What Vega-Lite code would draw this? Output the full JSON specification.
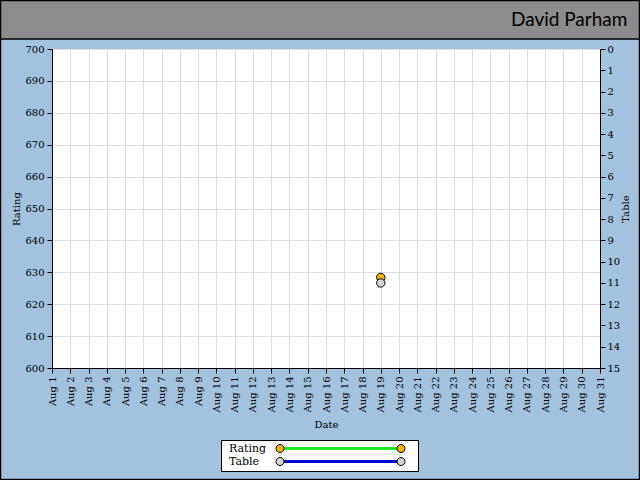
{
  "$schema": "https://vega.github.io/schema/vega-lite/v6.json",
  "width": 548,
  "height": 319,
  "autosize": {"type": "none"},
  "padding": {"left": 52, "top": 49, "right": 40, "bottom": 112},
  "background": "#a4c2dc",
  "config": {
    "view": {"fill": "white", "stroke": null},
    "font": "DejaVu Serif",
    "axis": {
      "domainColor": "black",
      "tickColor": "black",
      "tickSize": 5,
      "gridColor": "#dddddd",
      "labelFont": "DejaVu Serif",
      "labelFontSize": 10,
      "labelColor": "black",
      "titleFont": "DejaVu Serif",
      "titleFontSize": 10,
      "titleFontWeight": "normal",
      "titleColor": "black"
    }
  },
  "data": {
    "values": [
      {"date": "2013-08-19T00:00:00", "series": "Rating", "value": 628.4},
      {"date": "2013-08-19T00:00:00", "series": "Table", "value": 11}
    ]
  },
  "layer": [
    {
      "layer": [
        {
          "data": {"values": [{"part": "header"}]},
          "mark": {"type": "rect", "fill": "#8c8c8c", "stroke": "black", "strokeWidth": 1.5},
          "encoding": {
            "x": {"datum": {"year": 2013, "month": "July", "date": 28}, "type": "temporal", "title": "Date"},
            "x2": {"datum": {"year": 2013, "month": "September", "date": 4}},
            "y": {"datum": 703.13, "type": "quantitative", "title": "Rating"},
            "y2": {"datum": 720}
          }
        },
        {
          "data": {"values": [{"part": "frame"}]},
          "mark": {"type": "rect", "fill": null, "stroke": "black", "strokeWidth": 2.5},
          "encoding": {
            "x": {"datum": {"year": 2013, "month": "July", "date": 29, "hours": 3, "minutes": 40, "seconds": 44}, "type": "temporal", "title": "Date"},
            "x2": {"datum": {"year": 2013, "month": "September", "date": 2, "hours": 4, "minutes": 33, "seconds": 17}},
            "y": {"datum": 564.89, "type": "quantitative", "title": "Rating"},
            "y2": {"datum": 715.36}
          }
        },
        {
          "data": {"values": [{"name": "David Parham"}]},
          "mark": {"type": "text", "align": "right", "baseline": "middle", "font": "Lato", "fontSize": 19, "fontWeight": "normal", "color": "black"},
          "encoding": {
            "text": {"field": "name"},
            "x": {"datum": {"year": 2013, "month": "September", "date": 1, "hours": 12}, "type": "temporal", "title": "Date"},
            "y": {"datum": 709.2, "type": "quantitative", "title": "Rating"}
          }
        },
        {
          "transform": [{"filter": "datum.series == 'Rating'"}],
          "mark": {"type": "line", "strokeWidth": 3},
          "encoding": {
            "x": {"field": "date", "type": "temporal", "title": "Date",
              "scale": {"domain": [{"year": 2013, "month": "August", "date": 1}, {"year": 2013, "month": "August", "date": 31}], "nice": false},
              "axis": {"grid": true, "tickCount": {"interval": "day", "step": 1}, "format": "%b %-d", "labelAngle": 270, "labelPadding": 3, "labelFlush": false, "labelOverlap": false, "titlePadding": 8}},
            "y": {"field": "value", "type": "quantitative", "title": "Rating",
              "scale": {"domain": [600, 700], "nice": false, "zero": false},
              "axis": {"orient": "left", "grid": true, "tickCount": 10, "labelPadding": 3, "titlePadding": 3}},
            "stroke": {"field": "series", "type": "nominal",
              "scale": {"domain": ["Rating", "Table"], "range": ["#22e822", "#0000cc"]},
              "legend": {"orient": "none", "legendX": 169, "legendY": 391, "title": null, "fillColor": "white", "strokeColor": "black", "padding": 3,
                "symbolType": "M0,0L40.33,0M43,0",
                "symbolSize": 36, "symbolStrokeWidth": 3, "symbolOffset": 50.5,
                "labelAlign": "left", "labelOffset": -56.5, "labelFont": "DejaVu Serif", "labelFontSize": 11, "labelColor": "black", "rowPadding": 0, "zindex": 0}}
          }
        },
        {
          "transform": [{"filter": "datum.series == 'Rating'"}],
          "mark": {"type": "circle", "size": 70, "stroke": "black", "strokeWidth": 1, "opacity": 1},
          "encoding": {
            "x": {"field": "date", "type": "temporal", "title": "Date"},
            "y": {"field": "value", "type": "quantitative", "title": "Rating"},
            "fill": {"field": "series", "type": "nominal",
              "scale": {"range": ["#f8b400", "#d4d4d4"]},
              "legend": {"orient": "none", "legendX": 169, "legendY": 391, "title": null, "fillColor": null, "strokeColor": null, "padding": 3,
                "symbolType": "M1.3333,0A1.3333,1.3333 0 1,1 -1.3333,0A1.3333,1.3333 0 1,1 1.3333,0M41.6667,0A1.3333,1.3333 0 1,1 39,0A1.3333,1.3333 0 1,1 41.6667,0",
                "symbolSize": 36, "symbolStrokeColor": "black", "symbolStrokeWidth": 1, "symbolOpacity": 1, "symbolOffset": 50.5,
                "labelExpr": "''", "labelAlign": "left", "labelOffset": -56.5, "labelFont": "DejaVu Serif", "labelFontSize": 11, "rowPadding": 0, "zindex": 1}}
          }
        }
      ]
    },
    {
      "transform": [{"filter": "datum.series == 'Table'"}],
      "layer": [
        {
          "mark": {"type": "line", "strokeWidth": 3},
          "encoding": {
            "x": {"field": "date", "type": "temporal", "title": "Date"},
            "y": {"field": "value", "type": "quantitative", "title": "Table",
              "scale": {"domain": [0, 15], "nice": false, "reverse": true},
              "axis": {"orient": "right", "grid": false, "tickCount": 15, "labelPadding": 2, "titlePadding": 11, "titleAngle": 270}},
            "stroke": {"field": "series", "type": "nominal"}
          }
        },
        {
          "mark": {"type": "circle", "size": 70, "stroke": "black", "strokeWidth": 1, "opacity": 1},
          "encoding": {
            "x": {"field": "date", "type": "temporal", "title": "Date"},
            "y": {"field": "value", "type": "quantitative", "title": "Table"},
            "fill": {"field": "series", "type": "nominal"}
          }
        }
      ]
    }
  ],
  "resolve": {"scale": {"y": "independent"}}
}
